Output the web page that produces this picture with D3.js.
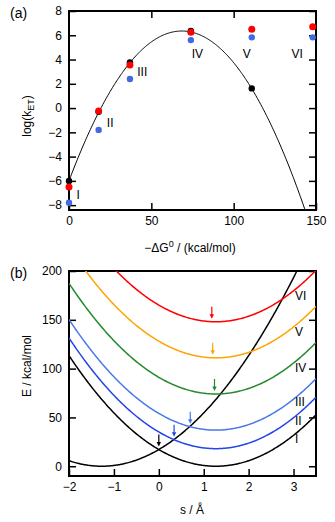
<!DOCTYPE html>
<html>
<head>
<meta charset="utf-8">
<script src="https://cdn.jsdelivr.net/npm/d3@7"></script>
<style>
  body { margin: 0; background: #fff; }
  svg { display: block; font-family: "Liberation Sans", Arial, sans-serif; }
  .tick line { stroke: #000; stroke-width: 1.5px; }
  .tick text { font-size: 12px; fill: #000; }
</style>
</head>
<body>
<svg id="chart" width="335" height="522"></svg>
<script>
// ---- panel (a): rate constants vs driving force ----
const complexes = ['I', 'II', 'III', 'IV', 'V', 'VI'];
const drivingForce = [0, 18, 37, 74, 111, 148];           // -dG0, kcal/mol
const logkRed = [-6.5, -0.25, 3.55, 6.24, 6.49, 6.71];
const logkBlue = [-7.8, -1.8, 2.39, 5.6, 5.83, 5.83];
const logkBlack = [-6.0, -0.3, 3.77, 6.35, 1.62];         // only I..V inside the frame
const marcusPeak = 6.35;                                  // max log(kET)
const marcusLambda = 68.5;                                // reorganisation energy
const labelAx = [5.5, 25, 44.5, 78, 108, 138.5];
const labelAy = [-7.1, -1.2, 3.0, 4.5, 4.5, 4.5];

// ---- panel (b): diabatic parabolas ----
const sReactant = -1.27;
const sProduct = 1.27;
const forceConst = 10.6;                                  // kcal/mol/A^2
const curveColors = ['#000000', '#2446e6', '#4a78e8', '#23892a', '#ffa500', '#ff0000'];
const arrowS = [0, 0.34, 0.70, 1.24, 1.20, 1.18];
const labelBs = 3.03;
const labelBE = [28, 47, 66, 101, 138, 175];

const svg = d3.select('#chart');

const xA = d3.scaleLinear().domain([0, 150]).range([69, 316]);
const yA = d3.scaleLinear().domain([-8.4, 8]).range([210, 11]);
const xB = d3.scaleLinear().domain([-2, 3.5]).range([69, 316]);
const yB = d3.scaleLinear().domain([-10, 200]).range([476, 271]);

function frame(x, y, xTicks, yTicks, topTicks, id) {
  const [x0, x1] = x.range();
  const [y0, y1] = y.range();
  const g = svg.append('g');
  const fmt = d3.format('d');

  g.append('g')
    .attr('transform', `translate(0,${y0})`)
    .call(d3.axisBottom(x).tickValues(xTicks).tickSize(-7).tickSizeOuter(0).tickPadding(6).tickFormat(fmt))
    .call(a => a.select('.domain').remove());
  g.append('g')
    .attr('transform', `translate(0,${y1})`)
    .call(d3.axisTop(x).tickValues(topTicks).tickSize(-7).tickSizeOuter(0).tickFormat(''))
    .call(a => a.select('.domain').remove());
  g.append('g')
    .attr('transform', `translate(${x0},0)`)
    .call(d3.axisLeft(y).tickValues(yTicks).tickSize(-7).tickSizeOuter(0).tickPadding(7).tickFormat(fmt))
    .call(a => a.select('.domain').remove());
  g.append('g')
    .attr('transform', `translate(${x1},0)`)
    .call(d3.axisRight(y).tickValues(yTicks).tickSize(-7).tickSizeOuter(0).tickFormat(''))
    .call(a => a.select('.domain').remove());

  g.append('rect')
    .attr('x', x0).attr('y', y1)
    .attr('width', x1 - x0).attr('height', y0 - y1)
    .attr('fill', 'none')
    .attr('stroke', '#000')
    .attr('stroke-width', 2);

  svg.append('clipPath').attr('id', id)
    .append('rect')
    .attr('x', x0).attr('y', y1)
    .attr('width', x1 - x0).attr('height', y0 - y1);
}

// ================= panel (a) =================
frame(xA, yA, [0, 50, 100, 150], d3.range(-8, 9, 2), [50, 100], 'clipA');

const marcus = d => marcusPeak - (d - marcusLambda) ** 2 * (marcusPeak + 6.0) / (marcusLambda ** 2);
const curveA = d3.range(0, 150.5, 0.5).map(d => [d, marcus(d)]);

svg.append('path')
  .attr('clip-path', 'url(#clipA)')
  .attr('d', d3.line().x(d => xA(d[0])).y(d => yA(d[1]))(curveA))
  .attr('fill', 'none')
  .attr('stroke', '#000')
  .attr('stroke-width', 1);

svg.append('g').selectAll('circle')
  .data(logkBlue)
  .join('circle')
  .attr('cx', (d, i) => xA(drivingForce[i]))
  .attr('cy', d => yA(d))
  .attr('r', 3.2)
  .attr('fill', '#4169e1');

svg.append('g').selectAll('circle')
  .data(logkBlack)
  .join('circle')
  .attr('cx', (d, i) => xA(drivingForce[i]))
  .attr('cy', d => yA(d))
  .attr('r', 3.2)
  .attr('fill', '#000');

svg.append('g').selectAll('circle')
  .data(logkRed)
  .join('circle')
  .attr('cx', (d, i) => xA(drivingForce[i]))
  .attr('cy', d => yA(d))
  .attr('r', 3.5)
  .attr('fill', '#ff0000');

svg.append('g').selectAll('text')
  .data(complexes)
  .join('text')
  .attr('x', (d, i) => xA(labelAx[i]))
  .attr('y', (d, i) => yA(labelAy[i]))
  .attr('dy', '0.36em')
  .attr('text-anchor', 'middle')
  .style('font-size', '12px')
  .text(d => d);

// axis titles (a)
svg.append('text')
  .attr('x', 10).attr('y', 18)
  .style('font-size', '14px')
  .text('(a)');

const ylabA = svg.append('text')
  .attr('transform', 'translate(31,116) rotate(-90)')
  .attr('text-anchor', 'middle')
  .style('font-size', '12px');
ylabA.append('tspan').text('log(k');
ylabA.append('tspan').attr('dy', 3).style('font-size', '9px').text('ET');
ylabA.append('tspan').attr('dy', -3).text(')');

const xlabA = svg.append('text')
  .attr('x', 190).attr('y', 252)
  .attr('text-anchor', 'middle')
  .style('font-size', '12px');
xlabA.append('tspan').text('\u2212\u0394G');
xlabA.append('tspan').attr('dy', -5).style('font-size', '9px').text('0');
xlabA.append('tspan').attr('dy', 5).text(' / (kcal/mol)');

// ================= panel (b) =================
frame(xB, yB, d3.range(-2, 4, 1), d3.range(0, 201, 50), [], 'clipB');

const sGrid = d3.range(-2, 3.5001, 0.02);
const lineB = d3.line().x(d => xB(d[0])).y(d => yB(d[1]));
const product = (s, off) => forceConst * (s - sProduct) ** 2 + off;

const plotB = svg.append('g').attr('clip-path', 'url(#clipB)');

// reactant parabola
plotB.append('path')
  .attr('d', lineB(sGrid.map(s => [s, forceConst * (s - sReactant) ** 2])))
  .attr('fill', 'none')
  .attr('stroke', '#000')
  .attr('stroke-width', 1.5);

plotB.selectAll('.product')
  .data(drivingForce)
  .join('path')
  .attr('class', 'product')
  .attr('d', off => lineB(sGrid.map(s => [s, product(s, off)])))
  .attr('fill', 'none')
  .attr('stroke', (d, i) => curveColors[i])
  .attr('stroke-width', 1.5);

// arrows pointing at crossings / minima
const arrows = svg.append('g').selectAll('g')
  .data(arrowS)
  .join('g')
  .attr('transform', (s, i) => `translate(${xB(s)},${yB(product(s, drivingForce[i])) - 3})`);
arrows.append('line')
  .attr('x1', 0).attr('x2', 0)
  .attr('y1', -12).attr('y2', -3)
  .attr('stroke', (d, i) => curveColors[i])
  .attr('stroke-width', 1.2);
arrows.append('path')
  .attr('d', 'M-2.2,-4.5L2.2,-4.5L0,0Z')
  .attr('fill', (d, i) => curveColors[i]);

svg.append('g').selectAll('text')
  .data(complexes)
  .join('text')
  .attr('x', xB(labelBs))
  .attr('y', (d, i) => yB(labelBE[i]))
  .attr('dy', '0.36em')
  .style('font-size', '12px')
  .text(d => d);

svg.append('text')
  .attr('x', 10).attr('y', 278)
  .style('font-size', '14px')
  .text('(b)');

svg.append('text')
  .attr('transform', 'translate(31,366) rotate(-90)')
  .attr('text-anchor', 'middle')
  .style('font-size', '12px')
  .text('E / kcal/mol');

svg.append('text')
  .attr('x', 192).attr('y', 514)
  .attr('text-anchor', 'middle')
  .style('font-size', '12px')
  .text('s / \u00c5');
</script>
</body>
</html>
